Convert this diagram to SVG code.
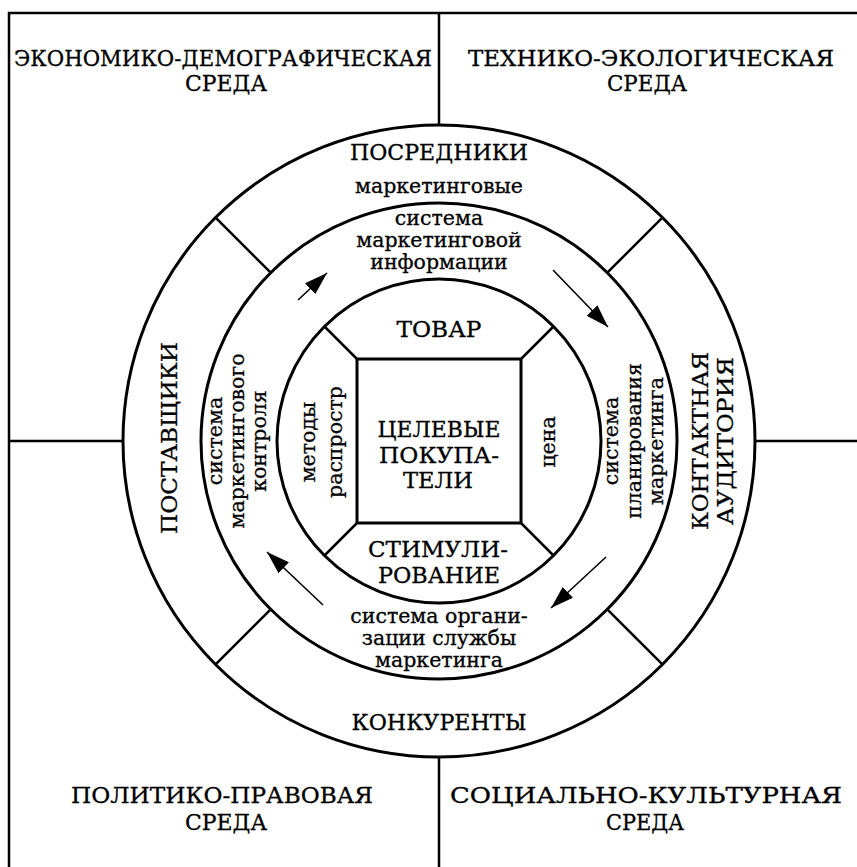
<svg xmlns="http://www.w3.org/2000/svg" width="857" height="867" viewBox="0 0 857 867">
<style>
.bg{fill:#ffffff}
.ln{stroke:#000;stroke-width:2.5;fill:none}
.ring{stroke:#000;stroke-width:3;fill:none}
.arw{stroke:#000;stroke-width:1.6;fill:none}
.cap{font-family:"DejaVu Serif","Liberation Serif",serif;font-size:22px;fill:#000;stroke:#000;stroke-width:0.3;text-anchor:middle}
.low{font-family:"DejaVu Serif","Liberation Serif",serif;font-size:20.5px;fill:#000;stroke:#000;stroke-width:0.3;text-anchor:middle}
</style>
<defs>
<marker id="ah" markerUnits="userSpaceOnUse" markerWidth="26" markerHeight="16" refX="23" refY="7.5" orient="auto">
<path d="M0,0 L23,7.5 L0,15 Z" fill="#000"/>
</marker>
</defs>
<rect class="bg" x="0" y="0" width="857" height="867"/>

<g id="frame">
<path class="ln" d="M9,867 L9,13 L857,13"/>
<line class="ln" x1="439" y1="13" x2="439" y2="125"/>
<line class="ln" x1="439" y1="757" x2="439" y2="867"/>
<line class="ln" x1="9" y1="441" x2="123" y2="441"/>
<line class="ln" x1="755" y1="441" x2="857" y2="441"/>
</g>

<g id="env-tl"><text class="cap" x="223" y="66" textLength="418" lengthAdjust="spacingAndGlyphs">ЭКОНОМИКО-ДЕМОГРАФИЧЕСКАЯ</text><text class="cap" x="226" y="91" textLength="82" lengthAdjust="spacingAndGlyphs">СРЕДА</text></g>
<g id="env-tr"><text class="cap" x="651" y="66" textLength="366" lengthAdjust="spacingAndGlyphs">ТЕХНИКО-ЭКОЛОГИЧЕСКАЯ</text><text class="cap" x="647" y="91" textLength="80" lengthAdjust="spacingAndGlyphs">СРЕДА</text></g>
<g id="env-bl"><text class="cap" x="222" y="803" textLength="302" lengthAdjust="spacingAndGlyphs">ПОЛИТИКО-ПРАВОВАЯ</text><text class="cap" x="226" y="830" textLength="82" lengthAdjust="spacingAndGlyphs">СРЕДА</text></g>
<g id="env-br"><text class="cap" x="646" y="803" textLength="392" lengthAdjust="spacingAndGlyphs">СОЦИАЛЬНО-КУЛЬТУРНАЯ</text><text class="cap" x="645" y="830" textLength="78" lengthAdjust="spacingAndGlyphs">СРЕДА</text></g>

<g id="rings">
<circle class="ring" cx="439" cy="441" r="316"/>
<circle class="ring" cx="439" cy="441" r="238"/>
<circle class="ring" cx="439" cy="441" r="162"/>
<line class="ln" x1="270.7" y1="272.7" x2="215.6" y2="217.6"/>
<line class="ln" x1="607.3" y1="272.7" x2="662.4" y2="217.6"/>
<line class="ln" x1="270.7" y1="609.3" x2="215.6" y2="664.4"/>
<line class="ln" x1="607.3" y1="609.3" x2="662.4" y2="664.4"/>
<line class="ln" x1="357" y1="359" x2="324.5" y2="326.5"/>
<line class="ln" x1="521" y1="359" x2="553.5" y2="326.5"/>
<line class="ln" x1="357" y1="523" x2="324.5" y2="555.5"/>
<line class="ln" x1="521" y1="523" x2="553.5" y2="555.5"/>
</g>

<g id="posredniki"><text class="cap" x="439" y="160" textLength="178" lengthAdjust="spacingAndGlyphs">ПОСРЕДНИКИ</text><text class="low" x="439" y="193">маркетинговые</text></g>
<g id="konkurenty"><text class="cap" x="439" y="730" textLength="175" lengthAdjust="spacingAndGlyphs">КОНКУРЕНТЫ</text></g>
<g id="postavshchiki"><text class="cap" transform="translate(177,438) rotate(-90)" textLength="192" lengthAdjust="spacingAndGlyphs">ПОСТАВЩИКИ</text></g>
<g id="auditoriya"><text class="cap" transform="translate(708,441) rotate(-90)" textLength="178" lengthAdjust="spacingAndGlyphs">КОНТАКТНАЯ</text><text class="cap" transform="translate(733,441) rotate(-90)" textLength="168" lengthAdjust="spacingAndGlyphs">АУДИТОРИЯ</text></g>

<g id="sys-info"><text class="low" x="439" y="225">система</text><text class="low" x="439" y="247">маркетинговой</text><text class="low" x="439" y="269">информации</text></g>
<g id="sys-plan"><text class="low" transform="translate(618,441) rotate(-90)">система</text><text class="low" transform="translate(641,441) rotate(-90)">планирования</text><text class="low" transform="translate(663,441) rotate(-90)">маркетинга</text></g>
<g id="sys-org"><text class="low" x="439" y="623">система органи-</text><text class="low" x="439" y="645">зации службы</text><text class="low" x="439" y="667">маркетинга</text></g>
<g id="sys-control"><text class="low" transform="translate(222,441) rotate(-90)">система</text><text class="low" transform="translate(244,441) rotate(-90)">маркетингового</text><text class="low" transform="translate(266,441) rotate(-90)">контроля</text></g>

<g id="tovar"><text class="cap" x="439" y="337" textLength="85" lengthAdjust="spacingAndGlyphs">ТОВАР</text></g>
<g id="tsena"><text class="low" transform="translate(555,442) rotate(-90)">цена</text></g>
<g id="stimul"><text class="cap" x="438" y="557" textLength="140" lengthAdjust="spacingAndGlyphs">СТИМУЛИ-</text><text class="cap" x="439" y="583" textLength="122" lengthAdjust="spacingAndGlyphs">РОВАНИЕ</text></g>
<g id="metody"><text class="low" transform="translate(315,442) rotate(-90)">методы</text><text class="low" transform="translate(342,442) rotate(-90)">распростр</text></g>

<g id="target">
<rect class="ring" x="357" y="359" width="164" height="164"/>
<text class="cap" x="439" y="437" textLength="123" lengthAdjust="spacingAndGlyphs">ЦЕЛЕВЫЕ</text><text class="cap" x="439" y="463" textLength="120" lengthAdjust="spacingAndGlyphs">ПОКУПА-</text><text class="cap" x="438" y="488" textLength="70" lengthAdjust="spacingAndGlyphs">ТЕЛИ</text>
</g>

<g id="connectors">
<line class="arw" x1="298" y1="300" x2="327" y2="273" marker-end="url(#ah)"/>
<line class="arw" x1="553" y1="270" x2="608" y2="327" marker-end="url(#ah)"/>
<line class="arw" x1="606" y1="557" x2="551" y2="608" marker-end="url(#ah)"/>
<line class="arw" x1="323" y1="605" x2="267" y2="552" marker-end="url(#ah)"/>
</g>
</svg>
